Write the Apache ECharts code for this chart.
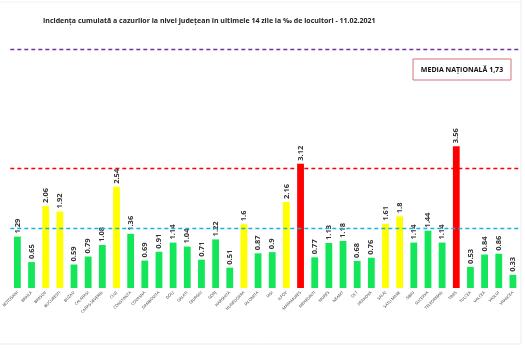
<!DOCTYPE html>
<html><head><meta charset="utf-8">
<script src="https://cdn.jsdelivr.net/npm/echarts@6/dist/echarts.min.js"></script>
<style>html,body{margin:0;padding:0;background:#fff}#c{width:525px;height:350px}</style>
</head><body><div id="c"></div>
<script>
const categories = ["BOTOSANI","BRAILA","BRASOV","BUCURESTI","BUZAU","CALARASI","CARAS-SEVERIN","CLUJ","CONSTANTA","COVASNA","DAMBOVITA","DOLJ","GALATI","GIURGIU","GORJ","HARGHITA","HUNEDOARA","IALOMITA","IASI","ILFOV","MARAMURES","MEHEDINTI","MURES","NEAMT","OLT","PRAHOVA","SALAJ","SATU MARE","SIBIU","SUCEAVA","TELEORMAN","TIMIS","TULCEA","VALCEA","VASLUI","VRANCEA"];
const values = [1.29,0.65,2.06,1.92,0.59,0.79,1.08,2.54,1.36,0.69,0.91,1.14,1.04,0.71,1.22,0.51,1.6,0.87,0.9,2.16,3.12,0.77,1.13,1.18,0.68,0.76,1.61,1.8,1.14,1.44,1.14,3.56,0.53,0.84,0.86,0.33];
const thresholds = [1.5, 3, 6];
const nationalAverage = "1,73";
const titleText = "Incidența cumulată a cazurilor la nivel județean în ultimele 14 zile la ‰ de locuitori - 11.02.2021";

function colorFor(v){ return v >= 3 ? '#ff0000' : (v >= 1.5 ? '#ffff00' : '#14e65a'); }

const chart = echarts.init(document.getElementById('c'));
chart.setOption({
  animation:false,
  backgroundColor:'#fff',
  title:{text:titleText,left:38,top:12,textStyle:{fontFamily:'Open Sans',fontSize:7,fontWeight:'bold',color:'#222'}},
  grid:{left:-3,right:5,top:49,bottom:62,containLabel:false},
  xAxis:{type:'category',data:categories,axisLine:{show:false},axisTick:{show:false},
    axisLabel:{interval:0,rotate:45,fontSize:4,color:'#333',fontFamily:'Open Sans',margin:4}},
  yAxis:{type:'value',min:0,max:6,show:false,splitLine:{show:false}},
  series:[{type:'bar',barWidth:'48%',
    data:values.map(v=>({value:v,itemStyle:{color:colorFor(v)}})),
    label:{show:true,position:'top',rotate:90,align:'left',verticalAlign:'middle',distance:3,
      fontSize:7.5,fontWeight:'bold',color:'#333',fontFamily:'Open Sans',formatter:p=>String(p.value)},
    markLine:{symbol:'none',silent:true,label:{show:false},
      data:[
        {yAxis:thresholds[0],lineStyle:{color:'#16b4e6',type:[4,3],width:1.3}},
        {yAxis:thresholds[1],lineStyle:{color:'#ff0000',type:[4,3],width:1.3}},
        {yAxis:thresholds[2],lineStyle:{color:'#7030a0',type:[4,3],width:1.3}}
      ]}
  }],
  graphic:[
    {type:'rect',shape:{x:413,y:59,width:98,height:21},style:{fill:'#fff',stroke:'#d4737c',lineWidth:1}},
    {type:'text',x:462,y:69.5,style:{text:'MEDIA NAȚIONALĂ '+nationalAverage,fontFamily:'Open Sans',fontSize:7,fontWeight:'bold',fill:'#111',align:'center',verticalAlign:'middle'}},
    {type:'line',shape:{x1:521,y1:0,x2:521,y2:344},style:{stroke:'#ececec',lineWidth:1}},
    {type:'line',shape:{x1:0,y1:344,x2:521,y2:344},style:{stroke:'#ececec',lineWidth:1}},
    {type:'line',shape:{x1:0,y1:2,x2:521,y2:2},style:{stroke:'#f2f2f2',lineWidth:1}}
  ]
});
</script></body></html>
